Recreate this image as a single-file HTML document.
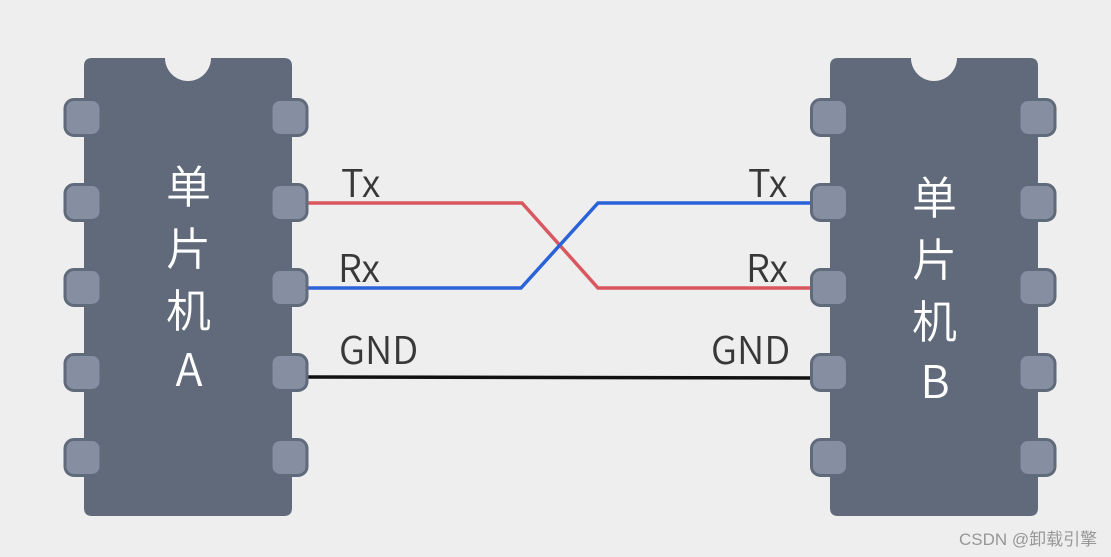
<!DOCTYPE html>
<html><head><meta charset="utf-8">
<style>
html,body{margin:0;padding:0;background:#eeeeee;width:1111px;height:557px;overflow:hidden}
svg{display:block}
.pin{fill:#858fa1;stroke:#5f6a7a;stroke-width:3}
.cn{font-family:"Noto Sans CJK SC","Liberation Sans",sans-serif;font-size:45px;fill:#fff;text-anchor:middle;font-weight:350}
.ab{font-family:"Noto Sans CJK SC","Liberation Sans",sans-serif;font-size:45px;fill:#fff;text-anchor:middle;font-weight:350}
.lb{font-family:"Noto Sans CJK SC","Liberation Sans",sans-serif;font-size:38px;fill:#383838;font-weight:350}
</style></head><body>
<svg width="1111" height="557" viewBox="0 0 1111 557" xmlns="http://www.w3.org/2000/svg">
<rect width="1111" height="557" fill="#eeeeee"/>
<path d="M92 58H165A23 23 0 0 0 211 58H284Q292 58 292 66V508Q292 516 284 516H92Q84 516 84 508V66Q84 58 92 58Z" fill="#606a7a"/>
<path d="M838 58H911A23 23 0 0 0 957 58H1030Q1038 58 1038 66V508Q1038 516 1030 516H838Q830 516 830 508V66Q830 58 838 58Z" fill="#606a7a"/>
<path d="M308 203H522L598 288H811" fill="none" stroke="#d9575f" stroke-width="3.5"/>
<path d="M308 288H521L598 203H811" fill="none" stroke="#2a62d8" stroke-width="3.5"/>
<path d="M308 377L811 378" fill="none" stroke="#111" stroke-width="3.5"/>
<g class="pin">
<rect x="65" y="99.500" width="36" height="36" rx="9"/><rect x="65" y="184.500" width="36" height="36" rx="9"/><rect x="65" y="269.500" width="36" height="36" rx="9"/><rect x="65" y="354.500" width="36" height="36" rx="9"/><rect x="65" y="439.500" width="36" height="36" rx="9"/>
<rect x="271" y="99.500" width="36" height="36" rx="9"/><rect x="271" y="184.500" width="36" height="36" rx="9"/><rect x="271" y="269.500" width="36" height="36" rx="9"/><rect x="271" y="354.500" width="36" height="36" rx="9"/><rect x="271" y="439.500" width="36" height="36" rx="9"/>
<rect x="811.500" y="99.500" width="36" height="36" rx="9"/><rect x="811.500" y="184.500" width="36" height="36" rx="9"/><rect x="811.500" y="269.500" width="36" height="36" rx="9"/><rect x="811.500" y="354.500" width="36" height="36" rx="9"/><rect x="811.500" y="439.500" width="36" height="36" rx="9"/>
<rect x="1019" y="99.500" width="36" height="36" rx="9"/><rect x="1019" y="184.500" width="36" height="36" rx="9"/><rect x="1019" y="269.500" width="36" height="36" rx="9"/><rect x="1019" y="354.500" width="36" height="36" rx="9"/><rect x="1019" y="439.500" width="36" height="36" rx="9"/>
</g>
<text class="cn" x="188.500" y="203">单</text>
<text class="cn" x="188.500" y="265">片</text>
<text class="cn" x="188.500" y="327">机</text>
<text class="ab" x="189" y="386">A</text>
<text class="cn" x="934.500" y="214">单</text>
<text class="cn" x="934.500" y="276">片</text>
<text class="cn" x="934.500" y="338">机</text>
<text class="ab" x="935" y="398">B</text>
<text class="lb" x="341" y="197">Tx</text>
<text class="lb" x="338" y="282">Rx</text>
<text class="lb" x="339" y="364">GND</text>
<text class="lb" x="748" y="197">Tx</text>
<text class="lb" x="746" y="282">Rx</text>
<text class="lb" x="711" y="364">GND</text>
<text x="959" y="545" style="font-family:'Liberation Sans','Noto Sans CJK SC',sans-serif;font-size:17px;fill:#979797">CSDN @卸载引擎</text>
</svg>
</body></html>
